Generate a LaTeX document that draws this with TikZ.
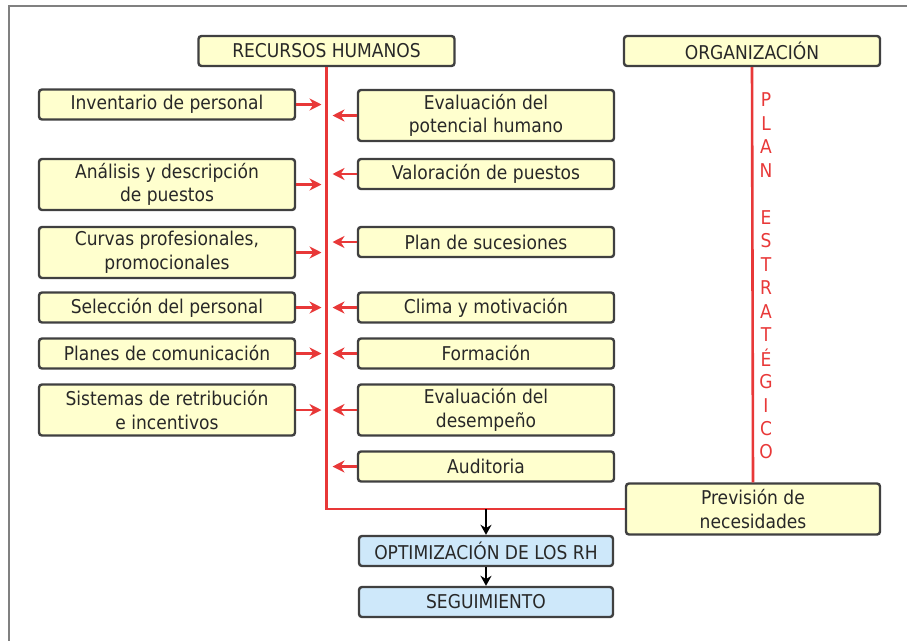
\documentclass[tikz,border=0pt]{standalone}
\usepackage{fontspec}
\setmainfont{DejaVu Sans Condensed}
\usepackage{tikz}
\usetikzlibrary{calc,positioning,arrows.meta,shapes}

\definecolor{boxyellow}{RGB}{255,255,206}
\definecolor{boxblue}{RGB}{206,232,250}
\definecolor{boxline}{RGB}{64,64,64}
\definecolor{planred}{RGB}{232,56,56}
\definecolor{txtgray}{RGB}{40,40,40}

\begin{document}
\begin{tikzpicture}[x=1pt,y=-1pt,
    every node/.style={font=\fontsize{19}{23.5}\selectfont,text=txtgray},
    box/.style={draw=boxline,line width=2.4pt,rounded corners=3pt,
        fill=boxyellow,align=center,inner sep=0pt},
    single/.style={box,minimum height=30pt},
    double/.style={box,minimum height=51pt},
    lcol/.style={minimum width=256pt},
    bluebox/.style={single,fill=boxblue,minimum width=254pt},
    redline/.style={draw=planred,line width=2.6pt},
    rarrow/.style={redline,-{Stealth[length=12pt,width=12pt]}},
    barrow/.style={draw=black,line width=2pt,-{Stealth[length=10pt,width=11pt]}}]

    \useasboundingbox (0,0) rectangle (907,640);

    % the frame
    \draw[gray,line width=2pt] (9,641) -- (9,6) -- (908,6);

    % the heads
    \node[single,lcol] (rh) at (326.5,51) {RECURSOS HUMANOS};
    \node[single,lcol] (org) at (752,51) {ORGANIZACIÓN};
    \node[double,minimum width=254pt] (prev) at (753,509) {Previsión de\\necesidades};

    % left column
    \node[single,lcol] (inv) at (167,104.5) {Inventario de personal};
    \node[double,lcol] (ana) at (167,184.5) {Análisis y descripción\\de puestos};
    \node[double,lcol] (cur) at (167,252.5) {Curvas profesionales,\\promocionales};
    \node[single,lcol] (sel) at (167,307.5) {Selección del personal};
    \node[single,lcol] (pla) at (167,353.5) {Planes de comunicación};
    \node[double,lcol] (sis) at (167,410) {Sistemas de retribución\\e incentivos};

    % right column
    \node[double,lcol] (evp) at (486,115.5) {Evaluación del\\potencial humano};
    \node[single,lcol] (val) at (486,174) {Valoración de puestos};
    \node[single,lcol] (suc) at (486,242) {Plan de sucesiones};
    \node[single,lcol] (cli) at (486,307.5) {Clima y motivación};
    \node[single,lcol] (for) at (486,353.5) {Formación};
    \node[double,lcol] (evd) at (486,410) {Evaluación del\\desempeño};
    \node[single,lcol] (aud) at (486,466.5) {Auditoria};

    % results
    \node[bluebox] (opt) at (486,551) {OPTIMIZACIÓN DE LOS RH};
    \node[bluebox] (seg) at (486,602) {SEGUIMIENTO};

    % red lines
    \coordinate (spine) at (rh.south);
    \draw[redline] (rh.south) -- (rh.south |- prev.west) -- (prev.west);
    \draw[redline] (org.south) -- (prev.north);

    \foreach \n in {inv,ana,cur,sel,pla,sis}
      \draw[rarrow,shorten >=5pt] (\n.east) -- (\n.east -| spine);
    \foreach \n in {evp,val,suc,cli,for,evd,aud}
      \draw[rarrow,shorten >=6pt] (\n.west) -- (\n.west -| spine);

    % plan estrategico
    \foreach \l [count=\i] in {P,L,A,N,{},E,S,T,R,A,T,É,G,I,C,O}
      \node[text=planred,inner sep=0pt] (pe\i) at (766,{100+23.47*(\i-1)}) {\l};

    % black arrows
    \draw[barrow] (opt.north |- prev.west) -- (opt.north);
    \draw[barrow] (opt.south) -- (seg.north);

\end{tikzpicture}
\end{document}
